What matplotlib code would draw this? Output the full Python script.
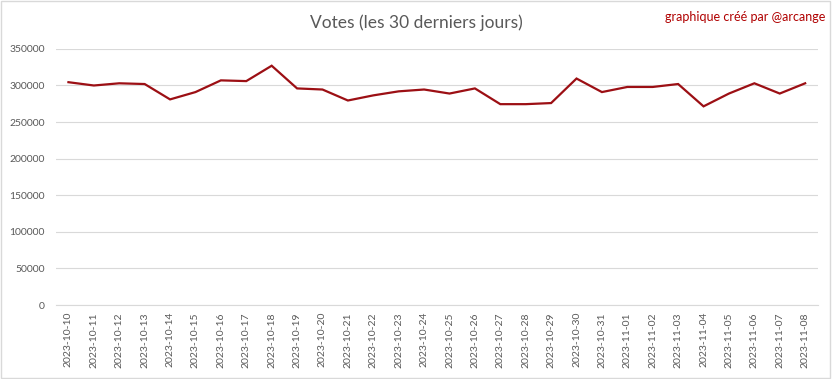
import matplotlib.pyplot as plt
import matplotlib.patches as patches

plt.rcParams['font.family'] = ['Lato', 'DejaVu Sans']

dates = ["2023-10-10", "2023-10-11", "2023-10-12", "2023-10-13", "2023-10-14",
         "2023-10-15", "2023-10-16", "2023-10-17", "2023-10-18", "2023-10-19",
         "2023-10-20", "2023-10-21", "2023-10-22", "2023-10-23", "2023-10-24",
         "2023-10-25", "2023-10-26", "2023-10-27", "2023-10-28", "2023-10-29",
         "2023-10-30", "2023-10-31", "2023-11-01", "2023-11-02", "2023-11-03",
         "2023-11-04", "2023-11-05", "2023-11-06", "2023-11-07", "2023-11-08"]
votes = [304500, 300000, 303000, 302000, 281000,
         291000, 307000, 306000, 327000, 296000,
         294500, 279500, 286500, 292000, 294500,
         289000, 296000, 274500, 274500, 276000,
         309500, 291000, 298000, 298000, 302000,
         271500, 289000, 303000, 289000, 303000]
yticks = [0, 50000, 100000, 150000, 200000, 250000, 300000, 350000]

fig = plt.figure(figsize=(8.32, 3.79), dpi=100)
ax = fig.add_axes([0.067, 0.195, 0.916, 0.676])

x = range(len(dates))
ax.plot(x, votes, color='#9c0f14', linewidth=1.6, solid_joinstyle='miter')

ax.set_xlim(-0.5, len(dates) - 0.5)
ax.set_ylim(0, 350000)
ax.set_yticks(yticks)
ax.set_yticklabels([str(v) for v in yticks])
ax.set_xticks(list(x))
ax.set_xticklabels(dates, rotation=90)
ax.tick_params(axis='both', length=0, colors='#595959', labelsize=7.5)
ax.tick_params(axis='y', pad=8)
ax.tick_params(axis='x', pad=5)
ax.grid(axis='y', color='#d9d9d9', linewidth=0.8)
ax.set_axisbelow(True)
for s in ['top', 'right', 'left']:
    ax.spines[s].set_visible(False)
ax.spines['bottom'].set_color('#d9d9d9')

fig.text(0.5, 0.940, "Votes (les 30 derniers jours)", ha='center', va='center',
         fontsize=12.5, color='#595959')
fig.text(0.992, 0.955, "graphique créé par @arcange", ha='right', va='center',
         fontsize=9, color='#b00000')

fig.patches.append(patches.Rectangle((0.001, 0.002), 0.997, 0.995, transform=fig.transFigure,
                                     fill=False, edgecolor='#d9d9d9', linewidth=1))

fig.savefig('out.png', dpi=100)
